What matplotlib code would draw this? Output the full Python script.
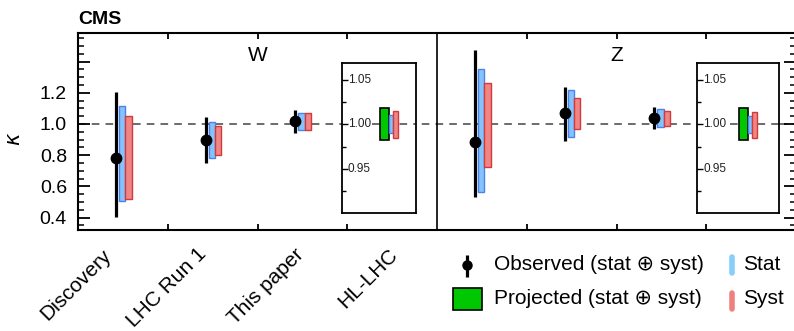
import matplotlib
matplotlib.use("Agg")
import matplotlib.pyplot as plt
import matplotlib.transforms as mtransforms
import numpy as np
from matplotlib.patches import Rectangle

plt.rcParams['font.family'] = ['Liberation Sans', 'DejaVu Sans']

# ---------------- data ----------------
categories = ["Discovery", "LHC Run 1", "This paper", "HL-LHC"]
panels = ["W", "Z"]

obs_W = [0.782, 0.897, 1.021]
obs_W_hi = [1.207, 1.043, 1.092]
obs_W_lo = [0.406, 0.748, 0.942]
stat_W_hi = [1.115, 1.015, 1.073]
stat_W_lo = [0.506, 0.780, 0.962]
syst_W_hi = [1.050, 0.987, 1.073]
syst_W_lo = [0.520, 0.800, 0.962]

obs_Z = [0.887, 1.068, 1.036]
obs_Z_hi = [1.474, 1.240, 1.107]
obs_Z_lo = [0.530, 0.893, 0.966]
stat_Z_hi = [1.350, 1.218, 1.094]
stat_Z_lo = [0.563, 0.919, 0.983]
syst_Z_hi = [1.260, 1.165, 1.085]
syst_Z_lo = [0.722, 0.966, 0.988]

# HL-LHC projections (lo, hi)
proj_W = [0.982, 1.018]
proj_W_stat = [0.990, 1.010]
proj_W_syst = [0.985, 1.015]
proj_Z = [0.982, 1.018]
proj_Z_stat = [0.990, 1.0095]
proj_Z_syst = [0.985, 1.014]

main_yticks = [0.4, 0.6, 0.8, 1.0, 1.2, 1.4]
main_ylabels = ["0.4", "0.6", "0.8", "1.0", "1.2", ""]
inset_yticks = [0.95, 1.00, 1.05]
inset_ylabels = ["0.95", "1.00", "1.05"]

# ---------------- styles ----------------
W_PX, H_PX = 794, 331
fig = plt.figure(figsize=(W_PX / 100, H_PX / 100), dpi=100)

def fx(px):
    return px / W_PX

def fy(py):
    return 1 - py / H_PX

stat_fc, stat_ec = "#86c3fb", "#4a82ee"
syst_fc, syst_ec = "#ef8585", "#d23a3a"
proj_fc = "#00c800"

ax_left, ax_right, ax_top, ax_bot = 78, 796, 33, 230
ax = fig.add_axes([fx(ax_left), fy(ax_bot), fx(ax_right - ax_left), (ax_bot - ax_top) / H_PX])
ax.set_xlim(0, 8)
ax.set_ylim(0.3205, 1.583)

BW = 0.071
off_pt, off_stat, off_syst = -0.078, -0.045, 0.026

def draw_panel(ax, start, obs, ohi, olo, shi, slo, yhi, ylo):
    x = np.arange(len(obs)) + start + 0.5
    obs = np.array(obs)
    ax.bar(x + off_stat, np.array(shi) - np.array(slo), bottom=slo, width=BW, align='edge',
           facecolor=stat_fc, edgecolor=stat_ec, linewidth=1.0, zorder=3)
    ax.bar(x + off_syst, np.array(yhi) - np.array(ylo), bottom=ylo, width=BW, align='edge',
           facecolor=syst_fc, edgecolor=syst_ec, linewidth=1.0, zorder=3)
    ax.errorbar(x + off_pt, obs, yerr=[obs - np.array(olo), np.array(ohi) - obs], fmt='o',
                color='black', ms=7.5, elinewidth=2.3, capsize=0, zorder=4)

ax.axhline(1.0, color="#444444", lw=1.1, ls=(0, (5, 4)), zorder=1)
draw_panel(ax, 0, obs_W, obs_W_hi, obs_W_lo, stat_W_hi, stat_W_lo, syst_W_hi, syst_W_lo)
draw_panel(ax, 4, obs_Z, obs_Z_hi, obs_Z_lo, stat_Z_hi, stat_Z_lo, syst_Z_hi, syst_Z_lo)
ax.axvline(4, color='black', lw=1.2, zorder=2)

for s in ax.spines.values():
    s.set_linewidth(1.5)

ax.set_yticks(main_yticks)
ax.set_yticklabels(main_ylabels)
ax.set_yticks(np.arange(0.35, 1.58, 0.05), minor=True)
ax.tick_params(axis='y', which='major', direction='in', length=8.6, width=1.3, labelsize=14,
               pad=8, right=True, left=True)
ax.tick_params(axis='y', which='minor', direction='in', length=4.3, width=1.1, right=True, left=True)
ax.set_xticks([1, 2, 3, 5, 6, 7])
ax.set_xticklabels([])
ax.tick_params(axis='x', which='major', direction='in', length=4.5, width=1.3, top=True, bottom=True)
ax.set_xticks(np.arange(4) + 0.5, minor=True)
ax.set_xticklabels(categories, minor=True, rotation=45, ha='right', va='center',
                   rotation_mode='anchor', fontsize=15)
ax.tick_params(axis='x', which='minor', length=0, pad=14)
label_shift_px = [(-15, -3), (-9, -1), (-2, -2), (3, -2)]
for lab, (dx, dy) in zip(ax.get_xticklabels(minor=True), label_shift_px):
    lab.set_transform(lab.get_transform() +
                      mtransforms.ScaledTranslation(dx / 100, dy / 100, fig.dpi_scale_trans))

for i, p in enumerate(panels):
    ax.text(2 + 4 * i, 1.442, p, ha='center', va='center', fontsize=15)

# ---------------- insets ----------------
in_top, in_bot = 62.7, 212.7
for (l, r, c, proj, pst, psy) in [
    (342, 416, 3.5, proj_W, proj_W_stat, proj_W_syst),
    (697, 779.5, 7.5, proj_Z, proj_Z_stat, proj_Z_syst),
]:
    ai = fig.add_axes([fx(l), fy(in_bot), fx(r - l), (in_bot - in_top) / H_PX])
    ai.set_facecolor('white')
    ai.set_zorder(5)
    xlo = (l - ax_left) / ((ax_right - ax_left) / 8)
    xhi = (r - ax_left) / ((ax_right - ax_left) / 8)
    ai.set_xlim(xlo, xhi)
    ai.set_ylim(0.9011, 1.0689)
    ai.bar([c - 0.14], [proj[1] - proj[0]], bottom=[proj[0]], width=0.1, align='edge',
           facecolor=proj_fc, edgecolor='black', linewidth=1.2, zorder=3)
    ai.bar([c - 0.04], [pst[1] - pst[0]], bottom=[pst[0]], width=0.045, align='edge',
           facecolor=stat_fc, edgecolor=stat_ec, linewidth=1.0, zorder=3)
    ai.bar([c + 0.008], [psy[1] - psy[0]], bottom=[psy[0]], width=0.052, align='edge',
           facecolor=syst_fc, edgecolor=syst_ec, linewidth=1.0, zorder=3)
    ai.plot([xlo + 0.4 * (xhi - xlo), xhi], [1.0, 1.0], color="#444444", lw=1.1,
            ls=(0, (5, 4)), zorder=1)
    ai.set_xticks([])
    ai.set_yticks(inset_yticks)
    ai.set_yticklabels([])
    ai.set_yticks([0.925, 0.975, 1.025], minor=True)
    ai.tick_params(axis='y', which='major', direction='in', length=4, width=1.0)
    ai.tick_params(axis='y', which='minor', direction='in', length=3, width=1.0)
    for t, lab in zip(inset_yticks, inset_ylabels):
        ai.text(0.075, t, lab, transform=ai.get_yaxis_transform(), ha='left', va='center',
                fontsize=8.5, color='#222222')
    for s in ai.spines.values():
        s.set_linewidth(1.3)

# ---------------- legend ----------------
lg = fig.add_axes([0, 0, 1, 1])
lg.set_xlim(0, W_PX)
lg.set_ylim(H_PX, 0)
lg.axis('off')
lg.set_zorder(10)
lg.plot([466.7, 466.7], [255, 277], color='black', lw=2.3, solid_capstyle='butt')
lg.plot([466.7], [265], 'o', color='black', ms=6.5)
lg.add_patch(Rectangle((452.7, 287.5), 29, 22.5, facecolor=proj_fc, edgecolor='black', lw=1.2))
lg.plot([731.7, 731.7], [257, 273], color='#87cefa', lw=4, solid_capstyle='round')
lg.plot([731.7, 731.7], [292.5, 308.5], color='#f08080', lw=4, solid_capstyle='round')
leg_fs = 15
lg.text(494, 265, "Observed (stat \u2295 syst)", fontsize=leg_fs, va='center', ha='left')
lg.text(494, 299, "Projected (stat \u2295 syst)", fontsize=leg_fs, va='center', ha='left')
lg.text(743.5, 265, "Stat", fontsize=leg_fs, va='center', ha='left')
lg.text(743.5, 299, "Syst", fontsize=leg_fs, va='center', ha='left')

fig.text(fx(78), fy(24), "CMS", fontsize=14, fontweight='bold', va='baseline', ha='left')
fig.text(fx(15), fy(139), r"$\kappa$", fontsize=15, rotation=90, va='center', ha='center')

fig.savefig("out.png", dpi=100)
